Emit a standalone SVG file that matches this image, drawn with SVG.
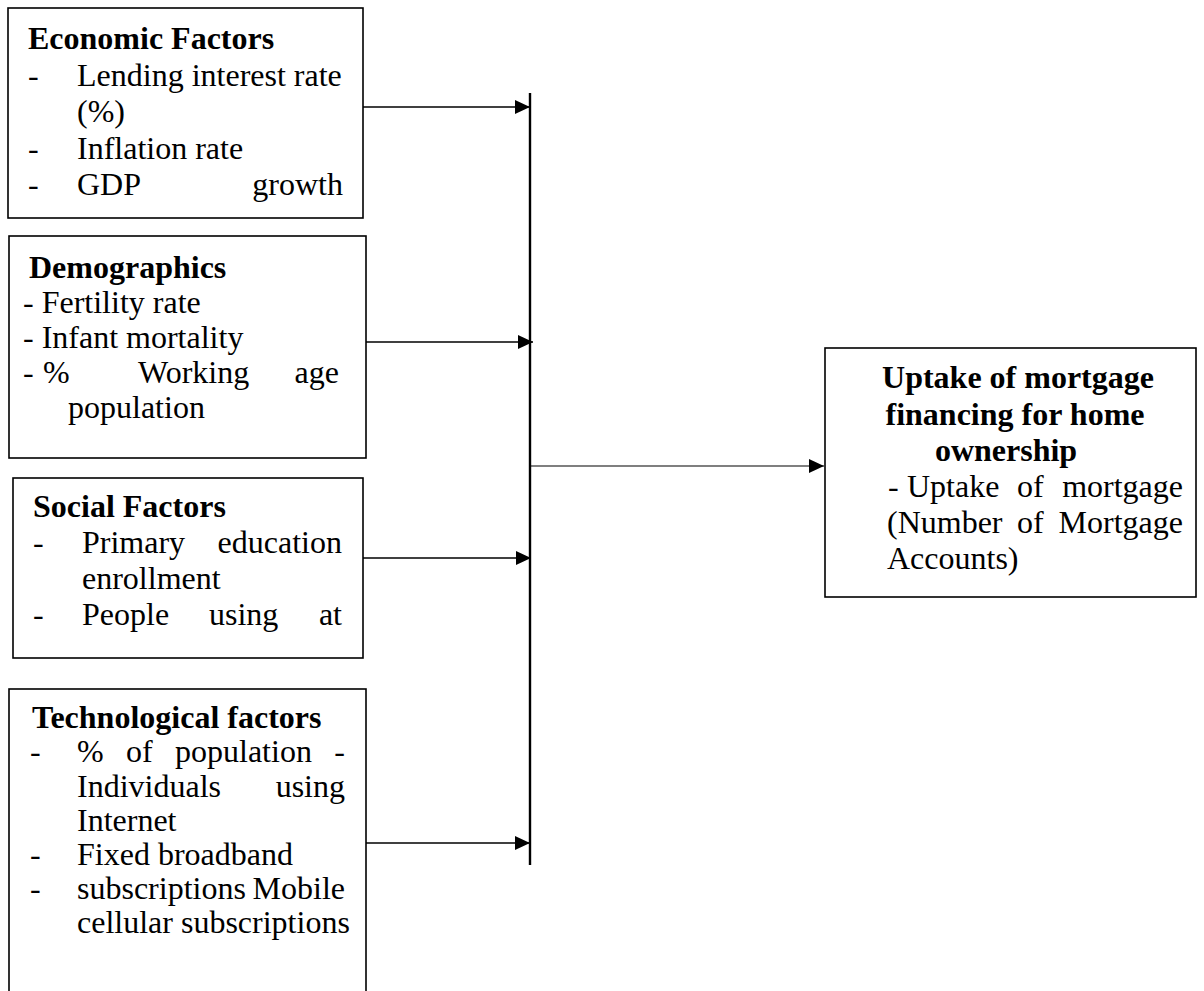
<svg xmlns="http://www.w3.org/2000/svg" width="1204" height="991" viewBox="0 0 1204 991">
<style>
.box{fill:#fff;stroke:#000;stroke-width:1.6}
text{font-family:"Liberation Serif","Times New Roman",serif;font-size:32px;fill:#000}
.b{font-weight:bold}
.ln{stroke:#000;stroke-width:1.6;fill:none}
.bus{stroke:#000;stroke-width:2.4;fill:none}
.out{stroke:#000;stroke-width:1.2;fill:none}
</style>
<defs>
<marker id="ah" viewBox="0 0 15 14" refX="15" refY="7" markerWidth="15" markerHeight="14" markerUnits="userSpaceOnUse" orient="auto">
<path d="M0,0 L15,7 L0,14 z" fill="#000"/>
</marker>
</defs>
<rect width="1204" height="991" fill="#fff"/>
<g id="economic">
<rect class="box" x="8" y="8" width="355" height="210"/>
<text class="b" x="28" y="49">Economic Factors</text>
<text x="28" y="86">-</text><text x="77" y="86">Lending interest rate</text>
<text x="77" y="122">(%)</text>
<text x="28" y="159">-</text><text x="77" y="159">Inflation rate</text>
<text x="28" y="195">-</text><text x="77" y="195">GDP</text><text x="343" y="195" text-anchor="end">growth</text>
</g>
<g id="demographics">
<rect class="box" x="9" y="236" width="357" height="222"/>
<text class="b" x="29" y="278">Demographics</text>
<text x="23" y="313">- Fertility rate</text>
<text x="23" y="348">- Infant mortality</text>
<text x="23" y="383">-</text><text x="43" y="383">%</text><text x="138" y="383">Working</text><text x="339" y="383" text-anchor="end">age</text>
<text x="68" y="418">population</text>
</g>
<g id="social">
<rect class="box" x="13" y="478" width="350" height="180"/>
<text class="b" x="33" y="517">Social Factors</text>
<text x="33" y="553">-</text><text x="82" y="553">Primary</text><text x="342" y="553" text-anchor="end">education</text>
<text x="82" y="589">enrollment</text>
<text x="33" y="625">-</text><text x="82" y="625">People</text><text x="209" y="625">using</text><text x="342" y="625" text-anchor="end">at</text>
</g>
<g id="technological">
<rect class="box" x="9" y="689" width="357" height="330"/>
<text class="b" x="32" y="728">Technological factors</text>
<text x="30" y="762">-</text><text x="77" y="762">%</text><text x="126" y="762">of</text><text x="175" y="762">population</text><text x="345" y="762" text-anchor="end">-</text>
<text x="77" y="797">Individuals</text><text x="345" y="797" text-anchor="end">using</text>
<text x="77" y="831">Internet</text>
<text x="30" y="865">-</text><text x="77" y="865">Fixed broadband</text>
<text x="30" y="899">-</text><text x="77" y="899">subscriptions</text><text x="345" y="899" text-anchor="end">Mobile</text>
<text x="77" y="933">cellular subscriptions</text>
</g>
<g id="uptake">
<rect class="box" x="825" y="348" width="371" height="249"/>
<text class="b" x="1018" y="388" text-anchor="middle">Uptake of mortgage</text>
<text class="b" x="1015" y="425" text-anchor="middle">financing for home</text>
<text class="b" x="1006" y="461" text-anchor="middle">ownership</text>
<text x="888" y="497">-</text><text x="907" y="497">Uptake</text><text x="1017" y="497">of</text><text x="1183" y="497" text-anchor="end">mortgage</text>
<text x="887" y="533">(Number</text><text x="1017" y="533">of</text><text x="1183" y="533" text-anchor="end">Mortgage</text>
<text x="887" y="569">Accounts)</text>
</g>
<g id="connectors">
<line class="bus" x1="530" y1="93" x2="530" y2="865"/>
<line class="ln" x1="363" y1="107" x2="530" y2="107" marker-end="url(#ah)"/>
<line class="ln" x1="366" y1="342" x2="533" y2="342" marker-end="url(#ah)"/>
<line class="ln" x1="363" y1="558" x2="531" y2="558" marker-end="url(#ah)"/>
<line class="ln" x1="366" y1="843" x2="530" y2="843" marker-end="url(#ah)"/>
<line class="out" x1="530" y1="466" x2="824" y2="466" marker-end="url(#ah)"/>
</g>
</svg>
